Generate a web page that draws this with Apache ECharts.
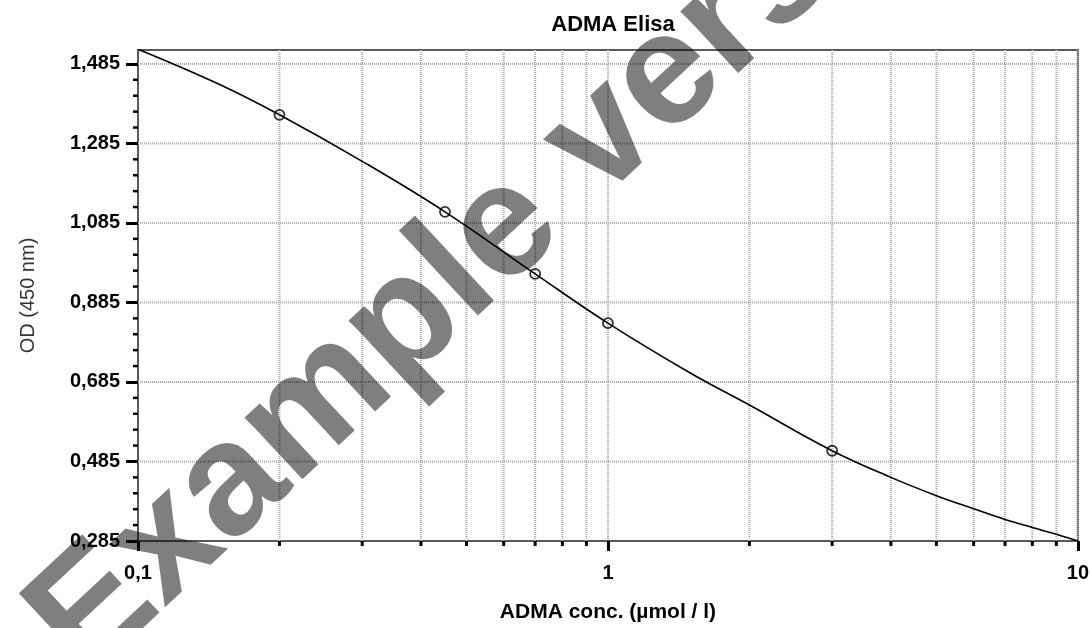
<!DOCTYPE html>
<html>
<head>
<meta charset="utf-8">
<script src="https://cdn.jsdelivr.net/npm/echarts@6/dist/echarts.min.js"></script>
<style>
html,body{margin:0;padding:0;background:#fff;}
#chart{width:1092px;height:628px;}
</style>
</head>
<body>
<div id="chart"></div>
<script>
// ---- data ----
const titleText = 'ADMA Elisa';
const xAxisName = 'ADMA conc. (µmol / l)';
const yAxisName = 'OD (450 nm)';
const watermarkText = 'Example version';

const xMin = 0.1, xMax = 10;
const yMin = 0.285, yMax = 1.52;

const yTicks = [0.285, 0.485, 0.685, 0.885, 1.085, 1.285, 1.485];
const yMinorTicks = [0.325, 0.365, 0.405, 0.445, 0.525, 0.565, 0.605, 0.645,
  0.725, 0.765, 0.805, 0.845, 0.925, 0.965, 1.005, 1.045,
  1.125, 1.165, 1.205, 1.245, 1.325, 1.365, 1.405, 1.445];
const xMinorTicks = [0.2, 0.3, 0.4, 0.5, 0.6, 0.7, 0.8, 0.9, 2, 3, 4, 5, 6, 7, 8, 9];

// standards (measured points)
const stdConc = [0.2, 0.45, 0.7, 1, 3];
const stdOD = [1.357, 1.113, 0.957, 0.833, 0.512];

// fitted curve
const curveConc = [0.1, 0.15, 0.2, 0.3, 0.45, 0.7, 1, 1.5, 2, 3, 4, 5, 6, 7, 8, 9, 10];
const curveOD = [1.522, 1.432, 1.357, 1.240, 1.113, 0.957, 0.833, 0.707, 0.627, 0.512, 0.445, 0.399, 0.366, 0.339, 0.319, 0.302, 0.285];

// ---- chart ----
const FONT = '"Liberation Sans", Arial, sans-serif';
const chart = echarts.init(document.getElementById('chart'), null, {renderer: 'canvas'});

const gridLineStyle = {stroke: '#a8a8a8', lineWidth: 2, lineDash: [1, 1]};

function xMinorRender(params, api) {
  const v = api.value(0);
  const top = api.coord([v, yMax]);
  const bot = api.coord([v, yMin]);
  return {
    type: 'group',
    children: [
      {type: 'line', shape: {x1: top[0], y1: top[1], x2: bot[0], y2: bot[1]}, style: gridLineStyle},
      {type: 'line', shape: {x1: bot[0], y1: bot[1], x2: bot[0], y2: bot[1] + 5}, style: {stroke: '#000', lineWidth: 3}}
    ]
  };
}
function yGridRender(params, api) {
  const v = api.value(1);
  const l = api.coord([xMin, v]);
  const r = api.coord([xMax, v]);
  return {type: 'line', shape: {x1: l[0], y1: l[1], x2: r[0], y2: r[1]}, style: gridLineStyle};
}
function yMinorRender(params, api) {
  const v = api.value(1);
  const p = api.coord([xMin, v]);
  return {type: 'line', shape: {x1: p[0] - 5, y1: p[1], x2: p[0], y2: p[1]}, style: {stroke: '#000', lineWidth: 2.5}};
}

const option = {
  animation: false,
  backgroundColor: '#fff',
  title: {
    text: titleText,
    left: 613, top: 14, textAlign: 'center', padding: 0,
    textStyle: {fontFamily: FONT, fontSize: 22, fontWeight: 'bold', color: '#000'}
  },
  grid: {left: 138, right: 13, top: 50, bottom: 86, show: true, borderColor: '#5a5a5a', borderWidth: 2, containLabel: false},
  xAxis: {
    type: 'log', logBase: 10, min: xMin, max: xMax,
    name: xAxisName, nameLocation: 'middle', nameGap: 61,
    nameTextStyle: {fontFamily: FONT, fontSize: 21, fontWeight: 'bold', color: '#000'},
    axisLine: {show: true, lineStyle: {color: '#5a5a5a', width: 2}},
    axisTick: {show: true, length: 10, lineStyle: {color: '#000', width: 3}},
    axisLabel: {
      margin: 22, fontFamily: FONT, fontSize: 20, fontWeight: 'bold', color: '#000',
      formatter: v => String(+(+v).toPrecision(6)).replace('.', ',')
    },
    splitLine: {show: true, lineStyle: {color: '#a8a8a8', width: 2, type: [1, 1]}},
    minorTick: {show: false}
  },
  yAxis: {
    type: 'value', min: yMin, max: yMax,
    name: yAxisName, nameLocation: 'middle', nameGap: 100, nameRotate: 90,
    nameTextStyle: {fontFamily: FONT, fontSize: 20, fontWeight: 'normal', color: '#333'},
    axisLine: {show: true, lineStyle: {color: '#5a5a5a', width: 2}},
    axisTick: {show: true, length: 12, customValues: yTicks, lineStyle: {color: '#000', width: 3}},
    axisLabel: {
      margin: 18, fontFamily: FONT, fontSize: 20, fontWeight: 'bold', color: '#000',
      customValues: yTicks,
      formatter: v => (+v).toFixed(3).replace('.', ',')
    },
    splitLine: {show: false}
  },
  series: [
    {
      type: 'custom', name: 'xMinor', coordinateSystem: 'cartesian2d', clip: false, silent: true, z: 1,
      data: xMinorTicks.map(v => [v, yMin]), encode: {x: 0, y: 1},
      renderItem: xMinorRender
    },
    {
      type: 'custom', name: 'yGrid', coordinateSystem: 'cartesian2d', clip: false, silent: true, z: 1,
      data: yTicks.slice(1).map(v => [xMin, v]), encode: {x: 0, y: 1},
      renderItem: yGridRender
    },
    {
      type: 'custom', name: 'yMinor', coordinateSystem: 'cartesian2d', clip: false, silent: true, z: 1,
      data: yMinorTicks.map(v => [xMin, v]), encode: {x: 0, y: 1},
      renderItem: yMinorRender
    },
    {
      type: 'line', name: 'fit', z: 3,
      data: curveConc.map((c, i) => [c, curveOD[i]]),
      smooth: 0.4, showSymbol: false, symbol: 'none',
      clip: true,
      lineStyle: {color: '#000', width: 1.6}
    },
    {
      type: 'scatter', name: 'standards', z: 4,
      data: stdConc.map((c, i) => [c, stdOD[i]]),
      symbol: 'circle', symbolSize: 10,
      itemStyle: {color: 'rgba(255,255,255,0)', borderColor: '#000', borderWidth: 1.8}
    }
  ],
  graphic: [{
    type: 'text', x: 521, y: 215, rotation: 43 * Math.PI / 180, z: 100, silent: true,
    style: {
      text: watermarkText, fontFamily: FONT, fontSize: 160, fontWeight: 'bold',
      fill: 'rgba(0,0,0,0.5)', align: 'center', verticalAlign: 'middle'
    }
  }]
};
chart.setOption(option);
</script>
</body>
</html>
